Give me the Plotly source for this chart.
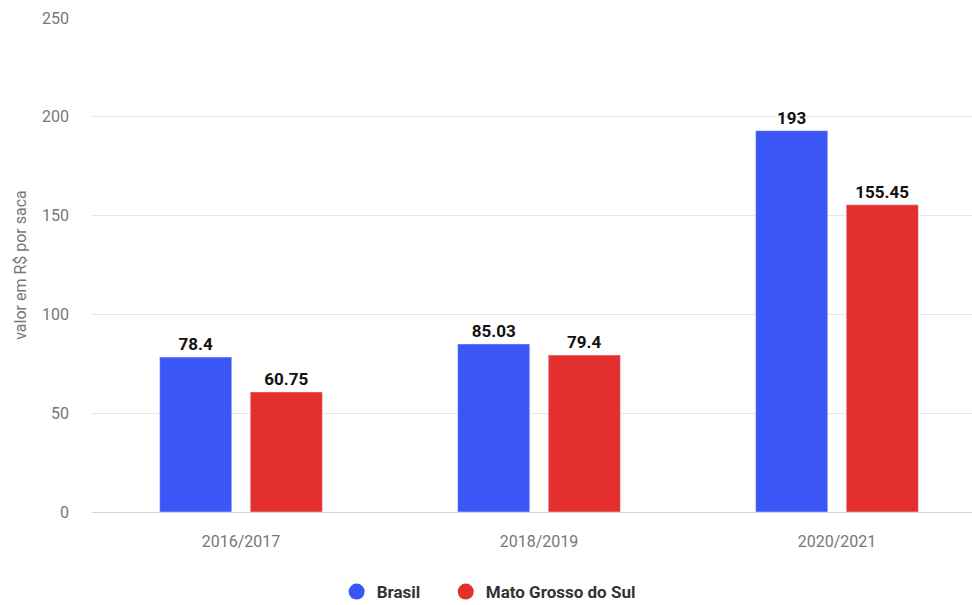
import plotly.graph_objects as go

categories = ["2016/2017", "2018/2019", "2020/2021"]
brasil = [78.4, 85.03, 193]
ms = [60.75, 79.4, 155.45]
brasil_labels = ["78.4", "85.03", "193"]
ms_labels = ["60.75", "79.4", "155.45"]

BLUE = "#3A56F7"
RED = "#E32F2E"
LABEL_FONT = dict(family="Roboto", size=17, color="#111111", weight="bold")

fig = go.Figure()
fig.add_trace(go.Bar(
    x=categories, y=brasil, name="Brasil", marker=dict(color=BLUE),
    width=0.242, offset=-0.273, text=brasil_labels, textposition="outside",
    textfont=LABEL_FONT, showlegend=False, cliponaxis=False,
))
fig.add_trace(go.Bar(
    x=categories, y=ms, name="Mato Grosso do Sul", marker=dict(color=RED),
    width=0.242, offset=0.031, text=ms_labels, textposition="outside",
    textfont=LABEL_FONT, showlegend=False, cliponaxis=False,
))
# legend entries with circular symbols (one legend each, for spacing)
fig.add_trace(go.Scatter(x=[None], y=[None], mode="markers", name="Brasil",
                         marker=dict(color=BLUE, size=18, symbol="circle"),
                         legend="legend"))
fig.add_trace(go.Scatter(x=[None], y=[None], mode="markers", name="Mato Grosso do Sul",
                         marker=dict(color=RED, size=18, symbol="circle"),
                         legend="legend2"))

LEG_FONT = dict(family="Roboto", size=17, color="#333333", weight="bold")
fig.update_layout(
    width=972, height=605,
    margin=dict(l=92, r=0, t=18, b=93, autoexpand=False),
    paper_bgcolor="white", plot_bgcolor="white",
    barmode="overlay",
    font=dict(family="Roboto", size=16, color="#777777"),
    legend=dict(orientation="h", x=0.278, xanchor="left", y=-0.162, yanchor="middle",
                font=LEG_FONT, itemsizing="trace", bgcolor="rgba(0,0,0,0)"),
    legend2=dict(orientation="h", x=0.402, xanchor="left", y=-0.162, yanchor="middle",
                 font=LEG_FONT, itemsizing="trace", bgcolor="rgba(0,0,0,0)"),
    xaxis=dict(type="category", range=[-0.5, 2.453], showgrid=False,
               ticks="", ticklabelstandoff=18,
               tickfont=dict(family="Roboto", size=16, color="#777777"),
               showline=False, zeroline=False),
    yaxis=dict(range=[0, 250], dtick=50, showgrid=True, gridcolor="#E6E6E6",
               gridwidth=1, zeroline=True, zerolinecolor="#CCD6E0", zerolinewidth=1,
               ticklabelstandoff=22,
               tickfont=dict(family="Roboto", size=16, color="#777777"),
               title=dict(text="valor em R$ por saca",
                          font=dict(family="Roboto", size=16, color="#777777"),
                          standoff=11)),
    showlegend=True,
)

fig.write_html("out.html")
